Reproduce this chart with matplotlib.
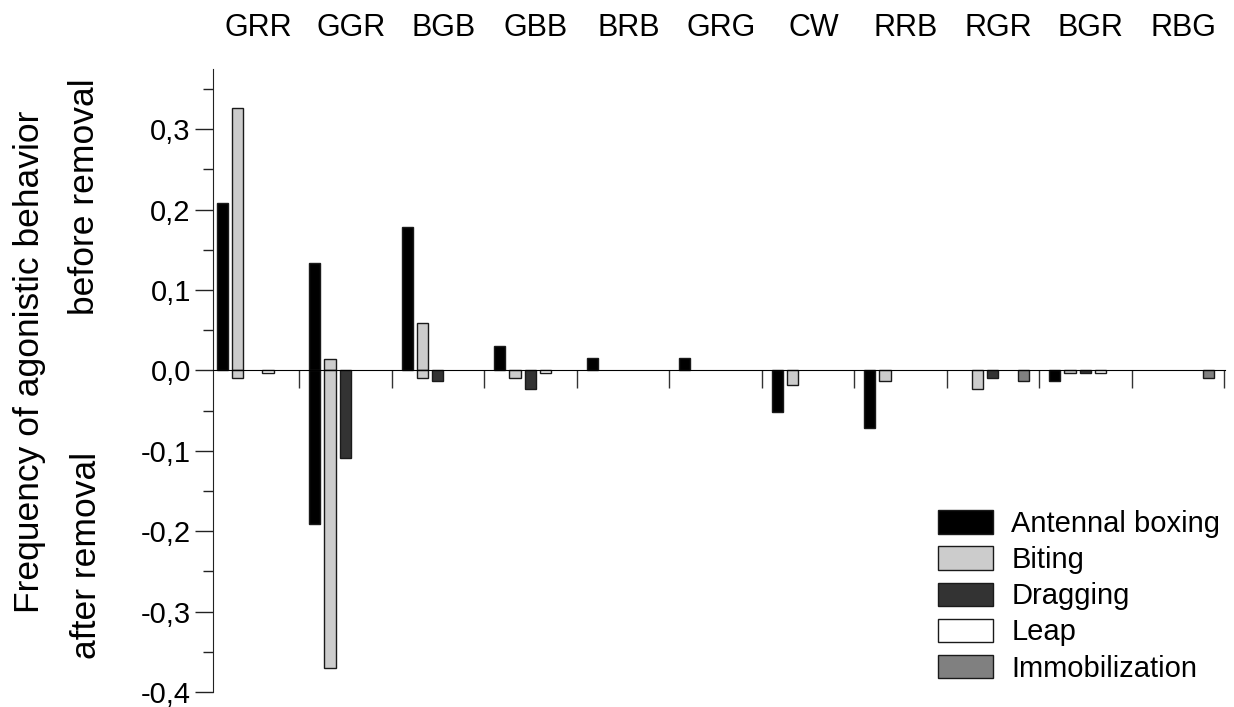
import numpy as np
import matplotlib
matplotlib.use("Agg")
import matplotlib.pyplot as plt
from matplotlib.patches import Patch
from matplotlib.ticker import MultipleLocator, FuncFormatter, FixedLocator

plt.rcParams["font.family"] = ["Liberation Sans", "DejaVu Sans"]

groups = ["GRR", "GGR", "BGB", "GBB", "BRB", "GRG", "CW", "RRB", "RGR", "BGR", "RBG"]
behaviors = ["Antennal boxing", "Biting", "Dragging", "Leap", "Immobilization"]
colors = ["#000000", "#cccccc", "#333333", "#ffffff", "#808080"]

# frequency before removal (plotted upward)
before = {
    "Antennal boxing": [0.208, 0.134, 0.179, 0.031, 0.015, 0.015, 0, 0, 0, 0, 0],
    "Biting":          [0.326, 0.0145, 0.0595, 0, 0, 0, 0, 0, 0, 0, 0],
    "Dragging":        [0, 0, 0, 0, 0, 0, 0, 0, 0, 0, 0],
    "Leap":            [0, 0, 0, 0, 0, 0, 0, 0, 0, 0, 0],
    "Immobilization":  [0, 0, 0, 0, 0, 0, 0, 0, 0, 0, 0],
}
# frequency after removal (plotted downward)
after = {
    "Antennal boxing": [0, -0.191, 0, 0, 0, 0, -0.052, -0.071, 0, -0.013, 0],
    "Biting":          [-0.009, -0.370, -0.009, -0.009, 0, 0, -0.018, -0.013, -0.023, -0.003, 0],
    "Dragging":        [0, -0.109, -0.013, -0.023, 0, 0, 0, 0, -0.009, -0.003, 0],
    "Leap":            [-0.003, 0, 0, -0.003, 0, 0, 0, 0, 0, -0.003, 0],
    "Immobilization":  [0, 0, 0, 0, 0, 0, 0, 0, -0.013, 0, -0.009],
}

fig = plt.figure(figsize=(12.34, 7.07), dpi=100)
# axes: left spine at x=213px, -0.4 at y=692px, 0.375 at y=69px
ax = fig.add_axes([0.1726, 1 - 692 / 707, 0.8201, (692 - 69) / 707])

x = np.arange(len(groups))
step, w = 0.165, 0.12
for k, b in enumerate(behaviors):
    pos = x + (k - 2) * step
    for vals in (before[b], after[b]):
        v = np.array(vals)
        m = v != 0
        ax.bar(pos[m], v[m], width=w, color=colors[k], edgecolor="#1a1a1a",
               linewidth=1.0, zorder=3)

ax.set_xlim(-0.43, 10.51)
ax.set_ylim(-0.4, 0.375)

for s in ["top", "right"]:
    ax.spines[s].set_visible(False)
ax.spines["bottom"].set_position(("data", 0))
ax.spines["bottom"].set_zorder(4)
ax.spines["left"].set_color("#222222")

ax.yaxis.set_major_locator(MultipleLocator(0.1))
ax.yaxis.set_minor_locator(MultipleLocator(0.05))
ax.yaxis.set_major_formatter(FuncFormatter(lambda v, p: f"{round(v, 1):.1f}".replace(".", ",").replace("-0,0", "0,0")))
ax.tick_params(axis="y", which="major", length=13, width=1, labelsize=21, color="#222222", pad=3)
ax.tick_params(axis="y", which="minor", length=7, width=1, color="#222222")

ax.xaxis.set_major_locator(FixedLocator([]))
ax.xaxis.set_minor_locator(FixedLocator(np.arange(len(groups)) + 0.5))
ax.tick_params(axis="x", which="minor", length=13, width=1, color="#333333", direction="out")

for i, g in enumerate(groups):
    ax.text(i + 0.06, 1.066, g, transform=ax.get_xaxis_transform(), ha="center", va="center", fontsize=22)

fig.text(30 / 1234, 1 - 362 / 707, "Frequency of agonistic behavior", rotation=90,
         ha="center", va="center", fontsize=25.5)
fig.text(85 / 1234, 1 - 197 / 707, "before removal", rotation=90, ha="center", va="center", fontsize=25.5)
fig.text(86 / 1234, 1 - 555 / 707, "after removal", rotation=90, ha="center", va="center", fontsize=25.5)

handles = [Patch(facecolor=c, edgecolor="#1a1a1a", linewidth=1.0) for c in colors]
ax.legend(handles, behaviors, loc="upper left", bbox_to_anchor=(938 / 1234, 1 - 510 / 707),
          bbox_transform=fig.transFigure, frameon=False, fontsize=21, handlelength=1.9,
          handleheight=0.85, labelspacing=0.28, handletextpad=0.62, borderpad=0, borderaxespad=0)

fig.savefig("out.png", dpi=100)
